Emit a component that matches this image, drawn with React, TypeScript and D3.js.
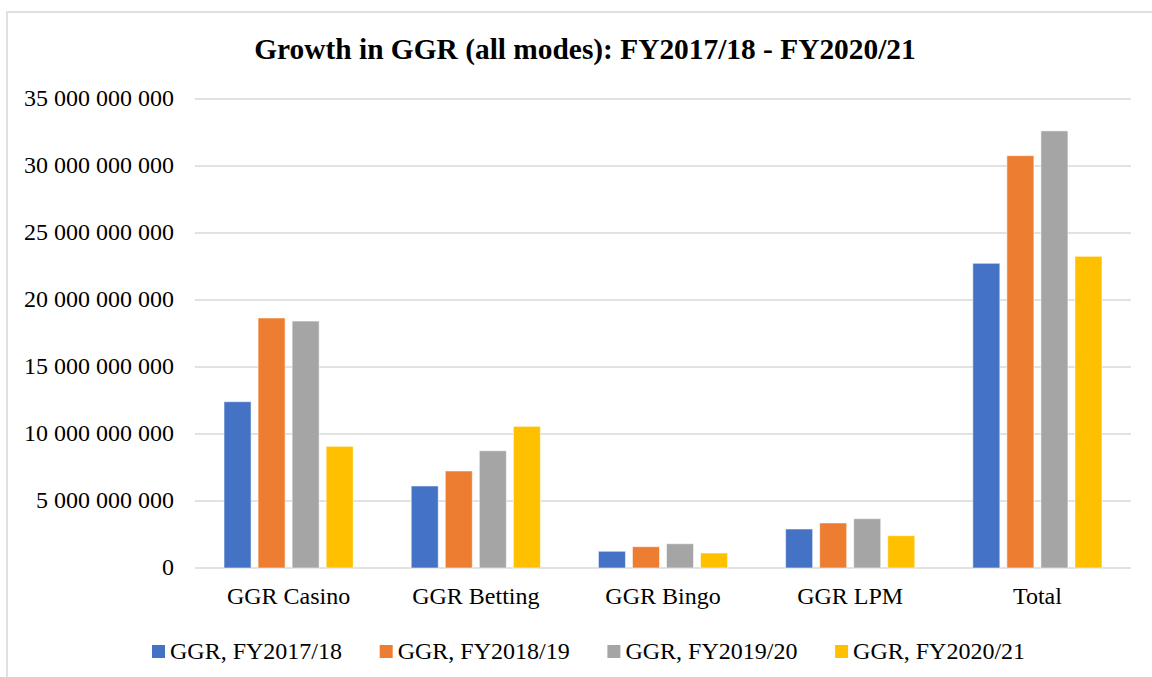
import * as d3 from 'd3'
import { useEffect, useRef } from 'react'

const categories = ['GGR Casino', 'GGR Betting', 'GGR Bingo', 'GGR LPM', 'Total']
const seriesNames = ['GGR, FY2017/18', 'GGR, FY2018/19', 'GGR, FY2019/20', 'GGR, FY2020/21']
const seriesColors = ['#4472C4', '#ED7D31', '#A5A5A5', '#FFC000']

// values in rand, one array per financial year (same order as categories)
const fy1718 = [12410000000, 6120000000, 1250000000, 2910000000, 22740000000]
const fy1819 = [18660000000, 7240000000, 1590000000, 3360000000, 30770000000]
const fy1920 = [18430000000, 8750000000, 1810000000, 3680000000, 32620000000]
const fy2021 = [9080000000, 10570000000, 1120000000, 2410000000, 23260000000]
const seriesValues = [fy1718, fy1819, fy1920, fy2021]

const yTicks = [0, 5e9, 10e9, 15e9, 20e9, 25e9, 30e9, 35e9]

const fmt = (v: number) => (v === 0 ? '0' : d3.format(',')(v).replace(/,/g, ' '))

export default function App() {
    const ref = useRef<SVGSVGElement>(null)

    useEffect(() => {
        const svg = d3.select(ref.current)
        svg.selectAll('*').remove()

        const width = 1152
        const height = 677
        const margin = { top: 99, right: 21, bottom: 109, left: 195 }
        const font = '"Liberation Serif", "Times New Roman", serif'

        // outer frame of the chart area (runs off the right and bottom of the picture)
        svg.append('rect')
            .attr('x', 7).attr('y', 12)
            .attr('width', width + 20).attr('height', height + 20)
            .attr('fill', '#fff')
            .attr('stroke', '#e0e0e0')
            .attr('stroke-width', 2)

        const x0 = d3.scaleBand()
            .domain(categories)
            .range([margin.left, width - margin.right])
            .paddingInner(0.31)
            .paddingOuter(0.155)

        const x1 = d3.scaleBand()
            .domain(seriesNames)
            .range([0, x0.bandwidth()])
            .paddingInner(0.206)

        const y = d3.scaleLinear()
            .domain([0, 35e9])
            .range([height - margin.bottom, margin.top])

        // title
        svg.append('text')
            .attr('x', 585).attr('y', 59)
            .attr('text-anchor', 'middle')
            .attr('font-family', font)
            .attr('font-weight', 'bold')
            .attr('font-size', 29.4)
            .attr('fill', '#000')
            .text('Growth in GGR (all modes): FY2017/18 - FY2020/21')

        // grid + y labels
        const grid = svg.append('g')
        grid.selectAll('line')
            .data(yTicks)
            .join('line')
            .attr('x1', margin.left).attr('x2', width - margin.right)
            .attr('y1', d => y(d)).attr('y2', d => y(d))
            .attr('stroke', '#d9d9d9')
            .attr('stroke-width', 1.5)

        grid.selectAll('text')
            .data(yTicks)
            .join('text')
            .attr('x', 174)
            .attr('y', d => y(d) + 7)
            .attr('text-anchor', 'end')
            .attr('font-family', font)
            .attr('font-size', 24)
            .attr('fill', '#000')
            .text(d => fmt(d))

        // bars
        const groups = svg.append('g')
            .selectAll('g')
            .data(categories)
            .join('g')
            .attr('transform', d => `translate(${x0(d)},0)`)

        groups.selectAll('rect')
            .data((_, i) => seriesNames.map((s, j) => ({ s, j, v: seriesValues[j][i] })))
            .join('rect')
            .attr('x', d => x1(d.s) as number)
            .attr('width', x1.bandwidth())
            .attr('y', d => y(d.v))
            .attr('height', d => y(0) - y(d.v))
            .attr('fill', d => seriesColors[d.j])
            .attr('stroke', 'rgba(255,255,255,0.55)')
            .attr('stroke-width', 1)

        // category labels
        svg.append('g')
            .selectAll('text')
            .data(categories)
            .join('text')
            .attr('x', d => (x0(d) as number) + x0.bandwidth() / 2)
            .attr('y', 604)
            .attr('text-anchor', 'middle')
            .attr('font-family', font)
            .attr('font-size', 24)
            .attr('fill', '#000')
            .text(d => d)

        // legend
        const legend = svg.append('g')
            .selectAll('g')
            .data(seriesNames)
            .join('g')
            .attr('transform', (_, i) => `translate(${152 + i * 227.7},0)`)

        legend.append('rect')
            .attr('x', 0).attr('y', 645)
            .attr('width', 13).attr('height', 13)
            .attr('fill', (_, i) => seriesColors[i])

        legend.append('text')
            .attr('x', 18).attr('y', 659)
            .attr('font-family', font)
            .attr('font-size', 24)
            .attr('fill', '#000')
            .text(d => d)
    }, [])

    return (
        <svg
            ref={ref}
            width={1152}
            height={677}
            style={{ position: 'absolute', left: 0, top: 0, background: '#fff' }}
        />
    )
}
